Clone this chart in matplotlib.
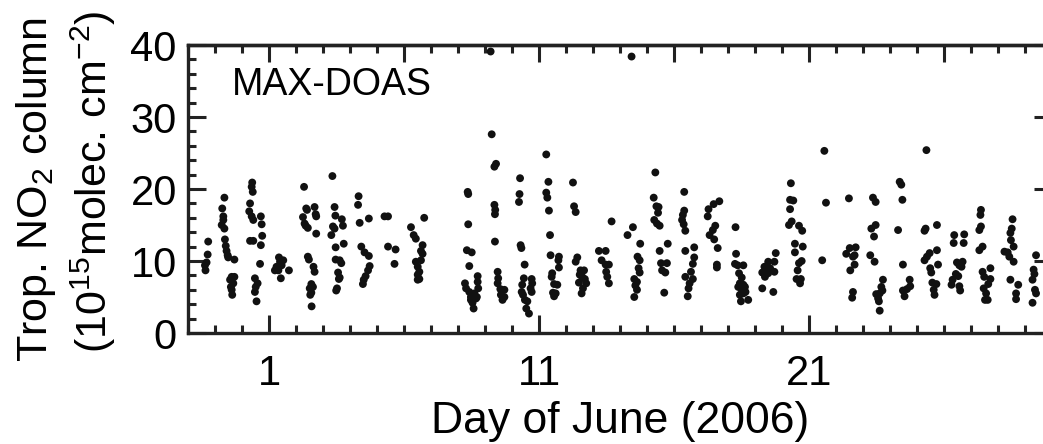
import numpy as np
import matplotlib
matplotlib.use("Agg")
import matplotlib.pyplot as plt
from matplotlib.ticker import MultipleLocator, FixedLocator

plt.rcParams['font.family'] = ['Liberation Sans', 'DejaVu Sans']
plt.rcParams['mathtext.fontset'] = 'custom'
plt.rcParams['mathtext.rm'] = 'Liberation Sans'
plt.rcParams['mathtext.it'] = 'Liberation Sans:italic'
plt.rcParams['mathtext.default'] = 'regular'

# day of June (fractional) and tropospheric NO2 column (1e15 molec cm-2)
day_may30 = [-1.25, -1.27, -1.31, -1.37, -1.35]
no2_may30 = [12.7, 10.9, 9.8, 9.4, 8.7]

day_may31 = [-0.65, -0.73, -0.69, -0.69, -0.75, -0.65, -0.63, -0.60, -0.57, -0.53,
             -0.51, -0.28, -0.38, -0.28, -0.44, -0.32, -0.41, -0.38, -0.36]
no2_may31 = [18.8, 17.3, 16.2, 15.7, 15.0, 14.5, 13.0, 12.1, 11.4, 10.8,
             10.5, 10.2, 7.8, 7.8, 7.4, 6.9, 6.4, 6.0, 5.3]

day_jun01 = [0.38, 0.36, 0.40, 0.30, 0.27, 0.36, 0.42, 0.30, 0.42, 0.70,
             0.73, 0.75, 0.70, 0.67, 0.48, 0.58, 0.51, 0.48, 0.54,
             1.37, 1.41, 1.28, 1.35, 1.47, 1.22, 1.44, 1.74, 1.53]
no2_jun01 = [20.9, 20.3, 19.6, 18.0, 16.9, 16.2, 15.7, 12.8, 12.8, 16.2,
             15.1, 13.5, 12.2, 9.6, 7.6, 6.9, 6.4, 5.7, 4.4,
             10.5, 9.9, 9.2, 8.7, 9.4, 8.7, 7.6, 8.7, 10.1]

day_jun03 = [2.30, 2.38, 2.41, 2.69, 2.73, 2.75, 2.26, 2.32, 2.36, 2.44, 2.75,
             2.44, 2.48, 2.65, 2.69, 2.57, 2.63, 2.51, 2.57, 2.53, 2.58,
             3.35, 3.43, 3.46, 3.70, 3.74, 3.37, 3.43, 3.31, 3.47, 3.77,
             3.47, 3.62, 3.68, 3.56, 3.62, 3.59, 3.52, 3.49]
no2_jun03 = [20.3, 17.3, 17.1, 17.5, 16.5, 16.2, 16.1, 15.2, 14.9, 14.6, 13.8,
             10.6, 10.2, 9.2, 8.5, 6.8, 6.4, 6.2, 5.6, 5.3, 3.7,
             21.8, 17.5, 16.3, 15.8, 14.9, 14.8, 14.5, 13.6, 11.9, 12.4,
             10.2, 10.1, 9.7, 8.4, 7.7, 7.5, 6.2, 5.9]

day_jun05 = [4.32, 4.30, 4.36, 4.70, 4.42, 4.54, 4.70, 4.73, 4.67, 4.58, 4.51, 4.48,
             5.28, 5.41, 5.41, 5.69, 5.65,
             6.75, 6.26, 6.36, 6.44, 6.69, 6.63, 6.69, 6.44, 6.63, 6.51, 6.57,
             6.51, 6.57, 6.51]
no2_jun05 = [19.0, 17.8, 15.3, 15.9, 12.0, 11.2, 10.7, 9.3, 8.7, 7.9, 7.4, 6.8,
             16.2, 16.2, 12.0, 11.6, 9.6,
             16.0, 14.7, 13.6, 13.1, 12.2, 11.4, 11.0, 9.9, 10.1, 9.2, 8.5,
             8.1, 7.5, 7.4]

day_jun09 = [8.36, 8.38, 8.38, 8.33, 8.51, 8.42, 8.73, 8.73, 8.26, 8.30, 8.75,
             8.42, 8.61, 8.48, 8.67, 8.54, 8.48, 8.58, 8.70,
             9.21, 9.25, 9.35, 9.41, 9.35, 9.38, 9.37, 9.37, 9.47, 9.49, 9.47,
             9.57, 9.72, 9.59, 9.65, 9.72]
no2_jun09 = [19.6, 19.3, 15.1, 11.5, 11.2, 9.3, 7.9, 7.1, 6.9, 6.2, 6.2,
             5.7, 5.5, 5.0, 4.8, 4.2, 4.6, 3.4, 5.0,
             39.1, 27.6, 23.1, 23.5, 17.8, 17.1, 16.5, 12.7, 8.5, 7.6, 6.9,
             6.1, 6.0, 5.3, 4.6, 5.0]

day_jun11 = [10.30, 10.28, 10.26, 10.32, 10.35, 10.47, 10.44, 10.38, 10.73, 10.75,
             10.69, 10.73, 10.36, 10.41, 10.48, 10.57, 10.53, 10.63,
             11.27, 11.35, 11.27, 11.31, 11.37, 11.41, 11.43, 11.74, 11.72,
             11.74, 11.49, 11.47, 11.56, 11.68, 11.52, 11.62, 11.56]
no2_jun11 = [21.5, 19.3, 18.2, 12.2, 11.8, 9.5, 7.6, 6.7, 7.5, 6.9,
             6.2, 5.7, 5.7, 5.3, 4.6, 4.4, 3.4, 2.7,
             24.8, 21.0, 19.5, 18.8, 17.0, 13.6, 10.8, 10.6, 10.1,
             9.1, 8.3, 7.8, 6.8, 6.7, 5.6, 5.5, 5.1]

day_jun13 = [12.26, 12.30, 12.36, 12.42, 12.36, 12.54, 12.67, 12.51, 12.60, 12.70,
             12.48, 12.75, 12.63, 12.58,
             13.69, 13.22, 13.47, 13.32, 13.47, 13.59, 13.49, 13.53, 13.59]
no2_jun13 = [20.9, 17.6, 16.8, 10.5, 9.9, 8.7, 8.7, 8.1, 7.8, 7.5,
             7.0, 6.9, 6.2, 5.5,
             15.5, 11.4, 11.4, 10.1, 9.5, 9.5, 8.5, 7.8, 6.9]

day_jun15 = [14.48, 14.28, 14.75, 14.65, 14.73, 14.69, 14.73, 14.53, 14.63, 14.57,
             14.63, 14.53, 14.43,
             15.31, 15.25, 15.35, 15.43, 15.41, 15.27, 15.37, 15.47, 15.77,
             15.47, 15.52, 15.74, 15.56, 15.68, 15.64]
no2_jun15 = [14.7, 13.6, 12.4, 10.6, 10.1, 9.0, 8.4, 7.5, 7.1, 6.6,
             6.0, 5.0, 38.4,
             22.3, 18.8, 17.6, 17.5, 16.7, 15.7, 15.2, 14.9, 12.4,
             11.4, 9.7, 9.7, 8.7, 8.4, 5.6]

day_jun17 = [16.38, 16.38, 16.33, 16.30, 16.36, 16.42, 16.42, 16.75, 16.75, 16.70,
             16.63, 16.42, 16.70, 16.58, 16.54, 16.51,
             17.68, 17.47, 17.28, 17.25, 17.53, 17.44, 17.32, 17.49, 17.62,
             17.59, 17.59]
no2_jun17 = [19.6, 17.0, 16.4, 15.7, 15.1, 14.2, 11.4, 11.9, 10.5, 9.6,
             8.5, 7.8, 7.5, 6.9, 6.2, 5.1,
             18.3, 17.9, 17.2, 16.2, 14.9, 14.3, 13.6, 13.0, 11.8,
             9.5, 9.1]

day_jun19 = [18.28, 18.30, 18.26, 18.36, 18.57, 18.41, 18.51, 18.44, 18.57, 18.63,
             18.38, 18.51, 18.65, 18.44, 18.57, 18.48, 18.75,
             19.77, 19.49, 19.72, 19.35, 19.43, 19.27, 19.49, 19.72, 19.37,
             19.27, 19.68, 19.56]
no2_jun19 = [14.7, 11.0, 9.6, 9.4, 9.4, 8.3, 7.7, 6.9, 6.7, 6.4,
             6.4, 6.0, 5.7, 5.3, 5.5, 4.4, 4.6,
             11.1, 9.9, 9.9, 9.2, 8.7, 8.4, 8.3, 8.5, 7.8,
             6.2, 5.7, 9.0]

day_jun21 = [20.33, 20.30, 20.42, 20.30, 20.36, 20.26, 20.63, 20.75, 20.48, 20.77,
             20.48, 20.73, 20.63, 20.58, 20.54, 20.70, 20.67,
             21.57, 21.63, 21.49]
no2_jun21 = [20.8, 18.5, 18.4, 17.2, 15.5, 15.0, 14.9, 14.2, 12.4, 12.0,
             11.2, 10.0, 9.7, 8.7, 7.5, 7.5, 6.9,
             25.3, 18.1, 10.1]

day_jun23 = [22.48, 22.51, 22.38, 22.73, 22.69, 22.63, 22.69, 22.53, 22.63, 22.60,
             23.37, 23.47, 23.47, 23.31, 23.41, 23.27, 23.43, 23.74, 23.68,
             23.72, 23.49, 23.62, 23.56, 23.59, 23.62]
no2_jun23 = [18.7, 11.8, 11.0, 11.9, 10.8, 10.6, 9.5, 8.7, 5.7, 4.9,
             18.8, 18.2, 15.0, 14.5, 13.4, 10.8, 9.9, 7.4, 6.4,
             5.9, 5.4, 5.5, 4.8, 4.4, 3.1]

day_jun25 = [24.36, 24.42, 24.46, 24.30, 24.48, 24.73, 24.75, 24.48, 24.63, 24.54,
             25.35, 25.32, 25.28, 25.74, 25.74, 25.78, 25.47, 25.37, 25.28,
             25.49, 25.53, 25.57, 25.72, 25.62, 25.65]
no2_jun25 = [21.0, 20.6, 18.5, 14.3, 9.5, 7.4, 6.5, 5.9, 6.1, 5.1,
             25.4, 14.5, 14.2, 15.0, 11.5, 9.5, 11.1, 10.6, 10.1,
             9.0, 8.4, 7.0, 6.8, 6.0, 5.3]

day_jun27 = [26.38, 26.75, 26.36, 26.73, 26.48, 26.57, 26.69, 26.65, 26.44, 26.53,
             26.32, 26.28, 26.57, 26.60,
             27.37, 27.35, 27.37, 27.31, 27.43, 27.31, 27.72, 27.43, 27.49,
             27.72, 27.64, 27.47, 27.56, 27.62, 27.52]
no2_jun27 = [13.6, 13.7, 12.5, 12.5, 9.8, 9.4, 9.9, 9.2, 8.2, 7.9,
             7.4, 6.7, 6.5, 5.9,
             17.1, 16.4, 14.8, 14.3, 12.0, 11.5, 9.0, 8.5, 7.8,
             7.5, 6.8, 6.2, 5.5, 4.6, 4.6]

day_jun29 = [28.54, 28.51, 28.46, 28.48, 28.58, 28.24, 28.36, 28.42, 28.58, 28.46,
             28.75, 28.67, 28.67,
             29.41, 29.32, 29.35, 29.28, 29.37, 29.41, 29.28]
no2_jun29 = [15.8, 14.5, 13.9, 12.9, 12.0, 11.3, 11.2, 10.6, 9.9, 7.4,
             6.7, 5.5, 4.7,
             10.8, 8.8, 8.2, 7.4, 6.0, 5.5, 4.2]

days = np.concatenate([day_may30, day_may31, day_jun01, day_jun03, day_jun05, day_jun09,
                       day_jun11, day_jun13, day_jun15, day_jun17, day_jun19, day_jun21,
                       day_jun23, day_jun25, day_jun27, day_jun29])
no2 = np.concatenate([no2_may30, no2_may31, no2_jun01, no2_jun03, no2_jun05, no2_jun09,
                      no2_jun11, no2_jun13, no2_jun15, no2_jun17, no2_jun19, no2_jun21,
                      no2_jun23, no2_jun25, no2_jun27, no2_jun29])

fig = plt.figure(figsize=(10.43, 4.44), dpi=100)
ax = fig.add_axes([0.1802, 0.25, 0.8284, 0.6486])

ax.scatter(days, no2, s=32, color='#111111', edgecolors='none', zorder=3)

ax.set_xlim(-2, 30)
ax.set_ylim(0, 40)

# ticks
ax.xaxis.set_major_locator(FixedLocator([1, 11, 21]))
ax.xaxis.set_minor_locator(MultipleLocator(1))
ax.yaxis.set_major_locator(MultipleLocator(10))
ax.yaxis.set_minor_locator(MultipleLocator(2))
ax.tick_params(axis='both', which='both', direction='in', width=2.2, color='#222222')
ax.tick_params(axis='both', which='major', length=13, labelsize=30)
ax.tick_params(axis='both', which='minor', length=5.5)
ax.tick_params(axis='x', which='both', bottom=True, top=False, pad=15)
ax.tick_params(axis='y', which='both', left=True, right=True, pad=8)

# top axis has longer ticks every 5 days
top = ax.secondary_xaxis('top')
top.xaxis.set_major_locator(FixedLocator([1, 6, 11, 16, 21, 26]))
top.xaxis.set_minor_locator(MultipleLocator(1))
top.tick_params(which='both', direction='in', width=2.2, color='#222222', labeltop=False)
top.tick_params(which='major', length=12)
top.tick_params(which='minor', length=5.5)
top.spines['top'].set_linewidth(2.4)

for sp in ax.spines.values():
    sp.set_linewidth(2.4)
    sp.set_color('#222222')

ax.set_xlabel('Day of June (2006)', fontsize=32, labelpad=5)

fig.text(0.0451, 0.572, 'Trop. NO$_2$ column', rotation=90, rotation_mode='anchor',
         ha='center', va='baseline', fontsize=31)
fig.text(0.1026, 0.590, '(10$^{15}$molec. cm$^{-2}$)', rotation=90, rotation_mode='anchor',
         ha='center', va='baseline', fontsize=31)

ax.text(-0.37, 33.06, 'MAX-DOAS', fontsize=27, ha='left', va='baseline')

fig.savefig('out.png', dpi=100)
